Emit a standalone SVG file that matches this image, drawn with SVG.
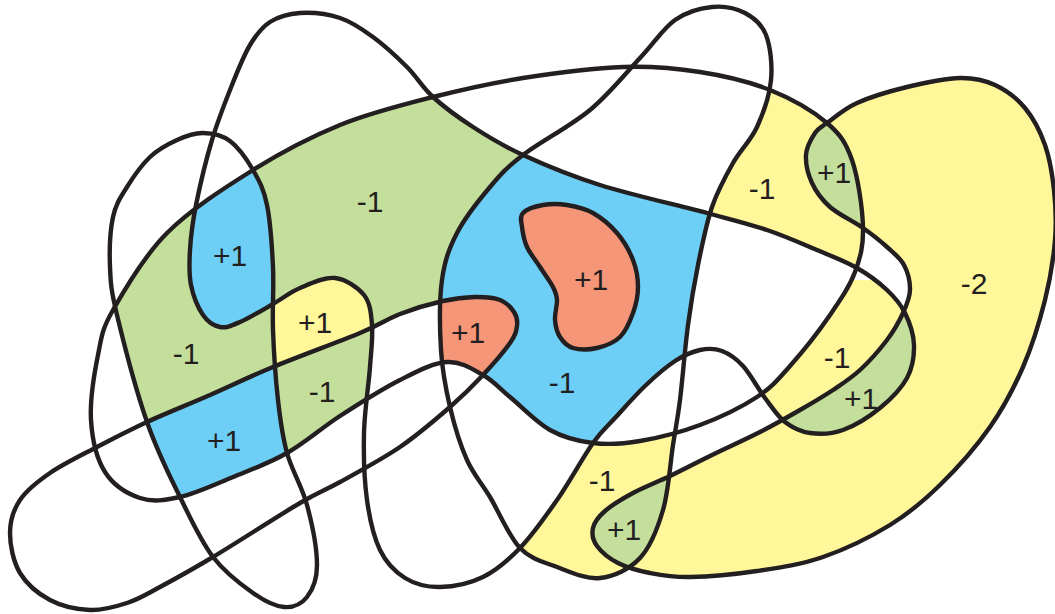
<svg xmlns="http://www.w3.org/2000/svg" xmlns:xlink="http://www.w3.org/1999/xlink" width="1055" height="614" viewBox="0 0 1055 614">
<style>
.ln{fill:none;stroke:#231f20;stroke-width:4.4;stroke-linejoin:round}
.lb{font-family:"Liberation Sans",Arial,Helvetica,sans-serif;font-size:30px;fill:#231f20;text-anchor:middle}
.g{fill:#c4df9b}.b{fill:#6dcff6}.y{fill:#fff799}.s{fill:#f69679}
</style>
<defs>
<path id="pE" d="M113,310 C124.5,289.7 143.7,256.3 167,233 C190.3,209.7 224.2,188 253,170 C281.8,152 310,137.2 340,125 C370,112.8 402.5,104.8 433,97 C463.5,89.2 491.3,83 523,78 C554.7,73 593.5,68 623,67 C652.5,66 675.5,68.2 700,72 C724.5,75.8 748.8,81.5 770,90 C791.2,98.5 813.3,111.3 827,123 C840.7,134.7 846,142.7 852,160 C858,177.3 862.5,208.3 863,227 C863.5,245.7 860.5,257.3 855,272 C849.5,286.7 840.8,299.3 830,315 C819.2,330.7 802.2,352.3 790,366 C777.8,379.7 772,387.2 757,397 C742,406.8 719.5,417.7 700,425 C680.5,432.3 657.8,438 640,441 C622.2,444 608,444.8 593,443 C578,441.2 563.8,437.7 550,430 C536.2,422.3 521.2,406.2 510,397 C498.8,387.8 493.5,380.8 483,375 C472.5,369.2 460.8,361.2 447,362 C433.2,362.8 417.8,371 400,380 C382.2,389 358.8,403.8 340,416 C321.2,428.2 304.8,442.8 287,453 C269.2,463.2 250.8,469.7 233,477 C215.2,484.3 195.5,493.5 180,497 C164.5,500.5 152.5,502.2 140,498 C127.5,493.8 113.2,485 105,472 C96.8,459 92.2,439.5 91,420 C89.8,400.5 94.3,373.3 98,355 C101.7,336.7 101.5,330.3 113,310 Z"/>
<path id="pL" d="M203,133 C211.8,133.2 221.7,134.8 230,141 C238.3,147.2 246.8,159.3 253,170 C259.2,180.7 263.7,188.8 267,205 C270.3,221.2 272,246.2 273,267 C274,287.8 272.2,307.8 273,330 C273.8,352.2 275.7,379.5 278,400 C280.3,420.5 282.2,435.5 287,453 C291.8,470.5 302,486.3 307,505 C312,523.7 317,549.7 317,565 C317,580.3 312.5,590 307,597 C301.5,604 293,607.7 284,607 C275,606.3 264.8,601.3 253,593 C241.2,584.7 225.2,573 213,557 C200.8,541 191,519.5 180,497 C169,474.5 157.5,452.3 147,422 C136.5,391.7 123.2,340.8 117,315 C110.8,289.2 110.7,283.3 110,267 C109.3,250.7 110.2,230.3 113,217 C115.8,203.7 120.8,197 127,187 C133.2,177 141.7,164.8 150,157 C158.3,149.2 168.2,144 177,140 C185.8,136 194.2,132.8 203,133 Z"/>
<path id="pT" d="M300,13 C311.7,12.3 327.8,14 340,18 C352.2,22 361.8,28.8 373,37 C384.2,45.2 397,57 407,67 C417,77 422,87 433,97 C444,107 458,117.3 473,127 C488,136.7 501.8,145.3 523,155 C544.2,164.7 569.3,175.3 600,185 C630.7,194.7 679.2,205.5 707,213 C734.8,220.5 748.7,223.8 767,230 C785.3,236.2 802,243.7 817,250 C832,256.3 845.3,261.3 857,268 C868.7,274.7 879,282.5 887,290 C895,297.5 900.5,303.8 905,313 C909.5,322.2 913.7,334.2 914,345 C914.3,355.8 912.7,367.5 907,378 C901.3,388.5 890.7,399.3 880,408 C869.3,416.7 854.7,425.8 843,430 C831.3,434.2 819.7,434.3 810,433 C800.3,431.7 792.5,427.8 785,422 C777.5,416.2 772,407.3 765,398 C758,388.7 750.2,373.8 743,366 C735.8,358.2 729.2,353.7 722,351 C714.8,348.3 707.8,348.3 700,350 C692.2,351.7 684.2,355 675,361 C665.8,367 655,376.5 645,386 C635,395.5 623.7,408.5 615,418 C606.3,427.5 602.7,429.3 593,443 C583.3,456.7 569.2,482.5 557,500 C544.8,517.5 532.3,535.2 520,548 C507.7,560.8 496.3,570.5 483,577 C469.7,583.5 453,586.8 440,587 C427,587.2 415,584.2 405,578 C395,571.8 386.3,563 380,550 C373.7,537 369.7,519.5 367,500 C364.3,480.5 363.5,455.2 364,433 C364.5,410.8 368.7,385 370,367 C371.3,349 373,337 372,325 C371,313 370.2,302.8 364,295 C357.8,287.2 345.7,279.2 335,278 C324.3,276.8 310.3,283.7 300,288 C289.7,292.3 283,298.3 273,304 C263,309.7 248.8,318.2 240,322 C231.2,325.8 226.2,328.2 220,327 C213.8,325.8 207.8,322 203,315 C198.2,308 193.2,295.8 191,285 C188.8,274.2 189.2,263.3 190,250 C190.8,236.7 192.3,223.3 196,205 C199.7,186.7 206,160 212,140 C218,120 225.7,100.8 232,85 C238.3,69.2 243.7,55.5 250,45 C256.3,34.5 261.7,27.3 270,22 C278.3,16.7 288.3,13.7 300,13 Z"/>
<path id="pM" d="M712,7 C723.7,5.8 736,8.3 745,13 C754,17.7 761.7,23.8 766,35 C770.3,46.2 772.5,64.7 771,80 C769.5,95.3 763.3,113.2 757,127 C750.7,140.8 740.5,149.7 733,163 C725.5,176.3 717.8,190 712,207 C706.2,224 702,245.3 698,265 C694,284.7 691,302.5 688,325 C685,347.5 682.5,380 680,400 C677.5,420 675.8,426.7 673,445 C670.2,463.3 668.5,491.2 663,510 C657.5,528.8 650.5,546.7 640,558 C629.5,569.3 613.8,576.5 600,578 C586.2,579.5 570.3,572 557,567 C543.7,562 531.2,559.7 520,548 C508.8,536.3 498.8,511.7 490,497 C481.2,482.3 473.7,475 467,460 C460.3,445 454.3,425.3 450,407 C445.7,388.7 442.3,371.2 441,350 C439.7,328.8 439.3,299.5 442,280 C444.7,260.5 449,248.5 457,233 C465,217.5 479,200 490,187 C501,174 506.3,167.8 523,155 C539.7,142.2 570.5,126.2 590,110 C609.5,93.8 625.8,73 640,58 C654.2,43 663,28.5 675,20 C687,11.5 700.3,8.2 712,7 Z"/>
<path id="pS" d="M10,533 C10,520.8 13.3,510 20,500 C26.7,490 37.2,481.8 50,473 C62.8,464.2 80.8,455.5 97,447 C113.2,438.5 128.2,430.7 147,422 C165.8,413.3 189,404.2 210,395 C231,385.8 248,377.3 273,367 C298,356.7 338.8,341.8 360,333 C381.2,324.2 386.2,319.3 400,314 C413.8,308.7 430.5,303.8 443,301 C455.5,298.2 465.5,297.2 475,297 C484.5,296.8 493.5,297.5 500,300 C506.5,302.5 511.2,307.7 514,312 C516.8,316.3 517.7,320.8 517,326 C516.3,331.2 515.7,334.8 510,343 C504.3,351.2 493,364.3 483,375 C473,385.7 463.8,395 450,407 C436.2,419 418.3,434.5 400,447 C381.7,459.5 356.7,472.7 340,482 C323.3,491.3 321.2,490.5 300,503 C278.8,515.5 236.3,543 213,557 C189.7,571 174.3,579.3 160,587 C145.7,594.7 138.7,599.2 127,603 C115.3,606.8 102.8,610.5 90,610 C77.2,609.5 61.7,606.2 50,600 C38.3,593.8 26.7,584.2 20,573 C13.3,561.8 10,545.2 10,533 Z"/>
<path id="pR" d="M827,123 C834,118 843.7,109 857,103 C870.3,97 889.8,91.2 907,87 C924.2,82.8 945.3,78.3 960,78 C974.7,77.7 984.2,80 995,85 C1005.8,90 1016.7,98 1025,108 C1033.3,118 1040.2,131.3 1045,145 C1049.8,158.7 1052.3,174.2 1054,190 C1055.7,205.8 1056.5,221.7 1055,240 C1053.5,258.3 1050.3,278.8 1045,300 C1039.7,321.2 1032.2,345.8 1023,367 C1013.8,388.2 1003.8,407.3 990,427 C976.2,446.7 956.7,468.7 940,485 C923.3,501.3 909.5,513 890,525 C870.5,537 845.2,549.3 823,557 C800.8,564.7 779.2,567.7 757,571 C734.8,574.3 707.8,576.7 690,577 C672.2,577.3 662,575.3 650,573 C638,570.7 626.8,567.5 618,563 C609.2,558.5 601.2,551.8 597,546 C592.8,540.2 591.7,533.8 593,528 C594.3,522.2 598.3,516.8 605,511 C611.7,505.2 622.2,498.8 633,493 C643.8,487.2 656.8,482.3 670,476 C683.2,469.7 697,462.3 712,455 C727,447.7 745.3,439.5 760,432 C774.7,424.5 787.8,417 800,410 C812.2,403 823,396.7 833,390 C843,383.3 851,378.3 860,370 C869,361.7 879.8,349.5 887,340 C894.2,330.5 899.2,321.3 903,313 C906.8,304.7 909.8,298 910,290 C910.2,282 907.8,272.2 904,265 C900.2,257.8 893.8,253.2 887,247 C880.2,240.8 872.5,234.7 863,228 C853.5,221.3 838.5,214.5 830,207 C821.5,199.5 816,191.7 812,183 C808,174.3 805.5,163.3 806,155 C806.5,146.7 811.5,138.3 815,133 C818.5,127.7 820,128 827,123 Z"/>
<path id="pP" d="M523,213 C526.5,209.3 535.7,206.3 543,205 C550.3,203.7 558.7,203.7 567,205 C575.3,206.3 584.7,208.3 593,213 C601.3,217.7 610.3,225.2 617,233 C623.7,240.8 629.5,251 633,260 C636.5,269 638,278.2 638,287 C638,295.8 636,304.7 633,313 C630,321.3 626,331.2 620,337 C614,342.8 604.8,346.2 597,348 C589.2,349.8 579.2,349.8 573,348 C566.8,346.2 563,341.7 560,337 C557,332.3 555.5,326.2 555,320 C554.5,313.8 557.3,305.5 557,300 C556.7,294.5 555.8,292.5 553,287 C550.2,281.5 544.3,273.7 540,267 C535.7,260.3 530,253.7 527,247 C524,240.3 522.7,232.7 522,227 C521.3,221.3 519.5,216.7 523,213 Z"/>
<clipPath id="cE"><use xlink:href="#pE"/></clipPath>
<clipPath id="cL"><use xlink:href="#pL"/></clipPath>
<clipPath id="cT"><use xlink:href="#pT"/></clipPath>
<clipPath id="cM"><use xlink:href="#pM"/></clipPath>
<clipPath id="cS"><use xlink:href="#pS"/></clipPath>
<clipPath id="cR"><use xlink:href="#pR"/></clipPath>
<mask id="nE" maskUnits="userSpaceOnUse" x="0" y="0" width="1055" height="614"><rect width="1055" height="614" fill="#fff"/><use xlink:href="#pE" fill="#000"/></mask>
<mask id="nL" maskUnits="userSpaceOnUse" x="0" y="0" width="1055" height="614"><rect width="1055" height="614" fill="#fff"/><use xlink:href="#pL" fill="#000"/></mask>
<mask id="nT" maskUnits="userSpaceOnUse" x="0" y="0" width="1055" height="614"><rect width="1055" height="614" fill="#fff"/><use xlink:href="#pT" fill="#000"/></mask>
<mask id="nM" maskUnits="userSpaceOnUse" x="0" y="0" width="1055" height="614"><rect width="1055" height="614" fill="#fff"/><use xlink:href="#pM" fill="#000"/></mask>
<mask id="nS" maskUnits="userSpaceOnUse" x="0" y="0" width="1055" height="614"><rect width="1055" height="614" fill="#fff"/><use xlink:href="#pS" fill="#000"/></mask>
<mask id="nR" maskUnits="userSpaceOnUse" x="0" y="0" width="1055" height="614"><rect width="1055" height="614" fill="#fff"/><use xlink:href="#pR" fill="#000"/></mask>
</defs>
<rect width="1055" height="614" fill="#fff"/>
<g id="fills">
<g clip-path="url(#cE)"><g clip-path="url(#cL)"><g mask="url(#nT)"><g mask="url(#nS)"><rect class="g" width="1055" height="614"/></g></g></g></g>
<g clip-path="url(#cE)"><g clip-path="url(#cL)"><g clip-path="url(#cT)"><rect class="b" width="1055" height="614"/></g></g></g>
<g clip-path="url(#cE)"><g clip-path="url(#cT)"><g mask="url(#nL)"><g mask="url(#nM)"><g mask="url(#nS)"><rect class="g" width="600" height="614"/></g></g></g></g></g>
<g clip-path="url(#cE)"><g mask="url(#nT)"><g mask="url(#nL)"><g mask="url(#nS)"><rect class="y" x="250" y="260" width="150" height="140"/></g></g></g></g>
<g clip-path="url(#cE)"><g clip-path="url(#cS)"><g mask="url(#nT)"><g mask="url(#nL)"><rect class="g" x="260" y="320" width="140" height="150"/></g></g></g></g>
<g clip-path="url(#cE)"><g clip-path="url(#cS)"><g clip-path="url(#cL)"><g mask="url(#nT)"><rect class="b" width="1055" height="614"/></g></g></g></g>
<g clip-path="url(#cE)"><g clip-path="url(#cT)"><g clip-path="url(#cM)"><g mask="url(#nS)"><rect class="b" width="1055" height="614"/></g></g></g></g>
<g clip-path="url(#cE)"><g clip-path="url(#cT)"><g clip-path="url(#cM)"><g clip-path="url(#cS)"><rect class="s" width="1055" height="614"/></g></g></g></g>
<g clip-path="url(#cE)"><g mask="url(#nT)"><g mask="url(#nM)"><g mask="url(#nR)"><rect class="y" x="680" y="60" width="200" height="240"/></g></g></g></g>
<g clip-path="url(#cE)"><g clip-path="url(#cR)"><rect class="g" width="1055" height="614"/></g></g>
<g clip-path="url(#cT)"><g mask="url(#nE)"><g mask="url(#nR)"><rect class="y" x="740" y="280" width="190" height="160"/></g></g></g>
<g clip-path="url(#cT)"><g clip-path="url(#cR)"><rect class="g" width="1055" height="614"/></g></g>
<g clip-path="url(#cR)"><g mask="url(#nE)"><g mask="url(#nT)"><g mask="url(#nM)"><rect class="y" width="1055" height="614"/></g></g></g></g>
<g clip-path="url(#cM)"><g mask="url(#nE)"><g mask="url(#nT)"><g mask="url(#nR)"><rect class="y" x="400" y="400" width="400" height="214"/></g></g></g></g>
<g clip-path="url(#cM)"><g clip-path="url(#cR)"><rect class="g" width="1055" height="614"/></g></g>
<use xlink:href="#pP" class="s"/>
</g>
<g id="curves">
<use id="curveE" xlink:href="#pE" class="ln"/>
<use id="curveL" xlink:href="#pL" class="ln"/>
<use id="curveT" xlink:href="#pT" class="ln"/>
<use id="curveM" xlink:href="#pM" class="ln"/>
<use id="curveS" xlink:href="#pS" class="ln"/>
<use id="curveR" xlink:href="#pR" class="ln"/>
<use id="curveP" xlink:href="#pP" class="ln"/>
</g>
<g id="labels">
<text class="lb" x="370" y="212">-1</text>
<text class="lb" x="230" y="266">+1</text>
<text class="lb" x="315" y="333">+1</text>
<text class="lb" x="186" y="364">-1</text>
<text class="lb" x="322" y="402">-1</text>
<text class="lb" x="224" y="451">+1</text>
<text class="lb" x="468" y="343">+1</text>
<text class="lb" x="591" y="290">+1</text>
<text class="lb" x="562" y="393">-1</text>
<text class="lb" x="762" y="199">-1</text>
<text class="lb" x="834" y="183">+1</text>
<text class="lb" x="974" y="294">-2</text>
<text class="lb" x="837" y="368">-1</text>
<text class="lb" x="861" y="409">+1</text>
<text class="lb" x="602" y="491">-1</text>
<text class="lb" x="624" y="540">+1</text>
</g>
</svg>
